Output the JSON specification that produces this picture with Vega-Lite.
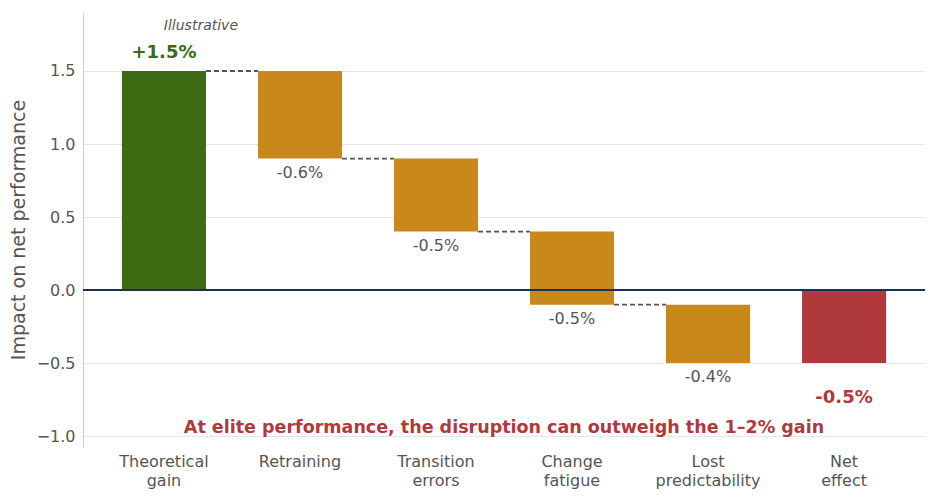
{
  "$schema": "https://vega.github.io/schema/vega-lite/v6.json",
  "width": 842,
  "height": 435,
  "autosize": "none",
  "padding": {"left": 83, "top": 12, "right": 13, "bottom": 53},
  "background": "white",
  "config": {
    "font": "DejaVu Sans",
    "view": {"stroke": null},
    "axis": {"labelFont": "DejaVu Sans", "titleFont": "DejaVu Sans"}
  },
  "datasets": {
    "steps": [
      {"cat": "Theoretical gain", "start": 0, "end": 1.5, "kind": "gain", "label": "+1.5%"},
      {"cat": "Retraining", "start": 1.5, "end": 0.9, "kind": "loss", "label": "-0.6%"},
      {"cat": "Transition errors", "start": 0.9, "end": 0.4, "kind": "loss", "label": "-0.5%"},
      {"cat": "Change fatigue", "start": 0.4, "end": -0.1, "kind": "loss", "label": "-0.5%"},
      {"cat": "Lost predictability", "start": -0.1, "end": -0.5, "kind": "loss", "label": "-0.4%"},
      {"cat": "Net effect", "start": 0, "end": -0.5, "kind": "net", "label": "-0.5%"}
    ],
    "links": [
      {"from": "Theoretical gain", "to": "Retraining", "level": 1.5},
      {"from": "Retraining", "to": "Transition errors", "level": 0.9},
      {"from": "Transition errors", "to": "Change fatigue", "level": 0.4},
      {"from": "Change fatigue", "to": "Lost predictability", "level": -0.1}
    ]
  },
  "encoding": {
    "x": {
      "field": "cat", "type": "nominal",
      "sort": ["Theoretical gain", "Retraining", "Transition errors", "Change fatigue", "Lost predictability", "Net effect"],
      "scale": {"domain": ["Theoretical gain", "Retraining", "Transition errors", "Change fatigue", "Lost predictability", "Net effect"], "paddingInner": 0.382, "paddingOuter": 0.286},
      "axis": {"title": null, "labelAngle": 0, "labelExpr": "split(datum.label, ' ')", "labelFontSize": 16, "labelColor": "#555555", "domain": false, "ticks": false, "labelPadding": 6, "labelLineHeight": 19}
    }
  },
  "layer": [
    {
      "data": {"name": "links"},
      "mark": {"type": "rule", "strokeDash": [5, 3], "color": "#555555", "strokeWidth": 1.8},
      "encoding": {
        "x": {"field": "from", "type": "nominal", "bandPosition": 1},
        "x2": {"field": "to", "bandPosition": 0},
        "y": {"field": "level", "type": "quantitative"}
      }
    },
    {
      "data": {"name": "steps"},
      "mark": {"type": "bar"},
      "encoding": {
        "y": {
          "field": "start", "type": "quantitative",
          "scale": {"domain": [-1.075, 1.904], "nice": false, "zero": false},
          "axis": {"title": "Impact on net performance", "titleFontSize": 19, "titleFontWeight": "normal", "titleColor": "#555555", "titlePadding": 8, "values": [-1, -0.5, 0, 0.5, 1, 1.5], "format": ".1f", "labelFontSize": 16, "labelColor": "#555555", "ticks": false, "labelPadding": 8, "domainColor": "#cccccc", "gridColor": "#e6e6e6"}
        },
        "y2": {"field": "end"},
        "color": {"field": "kind", "type": "nominal", "scale": {"domain": ["gain", "loss", "net"], "range": ["#3b6b12", "#c8881c", "#b0393b"]}, "legend": null}
      }
    },
    {
      "data": {"name": "steps"},
      "transform": [{"filter": "datum.kind == 'loss'"}],
      "mark": {"type": "text", "baseline": "top", "dy": 6, "fontSize": 16, "color": "#555555"},
      "encoding": {
        "y": {"field": "end", "type": "quantitative"},
        "text": {"field": "label"}
      }
    },
    {
      "data": {"name": "steps"},
      "transform": [{"filter": "datum.kind == 'gain'"}],
      "mark": {"type": "text", "baseline": "bottom", "dy": -9, "fontSize": 18, "fontWeight": "bold", "color": "#3b6b12"},
      "encoding": {
        "y": {"field": "end", "type": "quantitative"},
        "text": {"field": "label"}
      }
    },
    {
      "data": {"name": "steps"},
      "transform": [{"filter": "datum.kind == 'net'"}],
      "mark": {"type": "text", "baseline": "top", "dy": 26, "fontSize": 18, "fontWeight": "bold", "color": "#b0393b"},
      "encoding": {
        "y": {"field": "end", "type": "quantitative"},
        "text": {"field": "label"}
      }
    },
    {
      "data": {"values": [{}]},
      "mark": {"type": "rule", "color": "#1b2f5a", "strokeWidth": 2},
      "encoding": {"y": {"datum": 0, "type": "quantitative"}, "x": null}
    },
    {
      "data": {"values": [{"note": "Illustrative"}]},
      "mark": {"type": "text", "fontSize": 14, "fontStyle": "italic", "color": "#555555", "dx": 37},
      "encoding": {
        "x": {"datum": "Theoretical gain", "type": "nominal"},
        "y": {"datum": 1.808, "type": "quantitative"},
        "text": {"field": "note"}
      }
    },
    {
      "data": {"values": [{"note": "At elite performance, the disruption can outweigh the 1–2% gain"}]},
      "mark": {"type": "text", "fontSize": 17.5, "fontWeight": "bold", "color": "#b0393b", "dx": 68},
      "encoding": {
        "x": {"datum": "Transition errors", "type": "nominal"},
        "y": {"datum": -0.945, "type": "quantitative"},
        "text": {"field": "note"}
      }
    }
  ]
}
